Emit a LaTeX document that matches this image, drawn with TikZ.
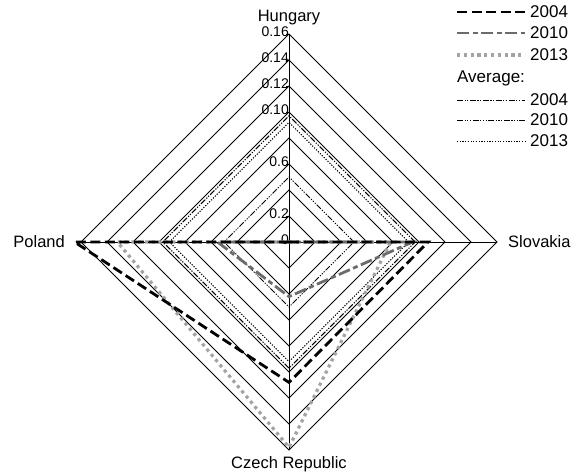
\documentclass[tikz,border=0pt]{standalone}
\usepackage{fontspec}
\setmainfont{Liberation Sans}
\usetikzlibrary{calc}

\newcommand{\vscale}{1300}
\definecolor{midgray}{gray}{0.42}
\definecolor{lightgray}{gray}{0.64}

\tikzset{
  ringline/.style={line width=0.8pt, black},
  ser2004/.style={line width=2.8pt, black, dash pattern=on 10pt off 4.5pt},
  ser2010/.style={line width=2.8pt, midgray, dash pattern=on 12pt off 3.5pt on 5pt off 3.5pt},
  ser2013/.style={line width=3.2pt, lightgray, dash pattern=on 3.2pt off 3.6pt},
  avg2004/.style={line width=1pt, black, dash pattern=on 6pt off 1.5pt on 1.2pt off 1.5pt on 1.2pt off 1.5pt},
  avg2010/.style={line width=1pt, black, dash pattern=on 6pt off 1.5pt on 1.2pt off 1.5pt on 1.2pt off 1.5pt on 1.2pt off 1.5pt},
  avg2013/.style={line width=1pt, black, dash pattern=on 1.2pt off 1.5pt},
  axislab/.style={font=\fontsize{16.5}{19}\selectfont, inner sep=0pt},
  ticklab/.style={font=\fontsize{14}{16}\selectfont, inner sep=0pt, anchor=east},
  leglab/.style={font=\fontsize{17}{19}\selectfont, inner sep=0pt, anchor=west}
}

\begin{document}
\begin{tikzpicture}[x=1pt,y=1pt]
    \useasboundingbox (-289,-233) rectangle (283,242);
    % rings and axes
    \foreach \i in {1,...,8}{
        \draw[ringline] (0:{\i*26}) -- (90:{\i*26}) -- (180:{\i*26}) -- (270:{\i*26}) -- cycle;
    }
    \coordinate (hu) at (90:208);
    \coordinate (sk) at (0:208);
    \coordinate (cz) at (270:208);
    \coordinate (pl) at (180:208);
    \draw[ringline] (hu) -- (cz);
    \draw[ringline] (pl) -- (sk);
    % scale
    \foreach \v/\t in {0/0, 1/0.2, 3/0.6, 5/0.10, 6/0.12, 7/0.14, 8/0.16}{
        \draw[ringline] (-3,{\v*26}) -- (0,{\v*26});
        \node[ticklab] (t\v) at (0,{\v*26+2}) {\t};
    }
    % countries
    \node[axislab, anchor=south] (hungary) at ($(hu)+(0,9)$) {Hungary};
    \node[axislab, anchor=west] (slovakia) at ($(sk)+(11,0)$) {Slovakia};
    \node[axislab, anchor=north] (czech) at ($(cz)+(0,-6)$) {Czech Republic};
    \node[axislab, anchor=east] (poland) at ($(pl)+(-16,0)$) {Poland};
    % averages
    \draw[avg2004] (0:{0.097*\vscale}) -- (90:{0.097*\vscale}) -- (180:{0.097*\vscale}) -- (270:{0.097*\vscale}) -- cycle;
    \draw[avg2010] (0:{0.050*\vscale}) -- (90:{0.050*\vscale}) -- (180:{0.050*\vscale}) -- (270:{0.050*\vscale}) -- cycle;
    \draw[avg2013] (0:{0.092*\vscale}) -- (90:{0.092*\vscale}) -- (180:{0.092*\vscale}) -- (270:{0.092*\vscale}) -- cycle;
    % years
    \draw[ser2013] (0,0) -- (0:{0.078*\vscale}) -- (270:{0.158*\vscale}) -- (180:{0.132*\vscale}) -- cycle;
    \draw[ser2010] (0,0) -- (0:{0.095*\vscale}) -- (270:{0.042*\vscale}) -- (180:{0.055*\vscale}) -- cycle;
    \draw[ser2004] (0,0) -- (0:{0.107*\vscale}) -- (270:{0.108*\vscale}) -- (180:{0.165*\vscale}) -- cycle;
    % legend
    \draw[ser2004] (168,230) -- (236,230);
    \node[leglab] (leg1) at (241,230) {2004};
    \draw[ser2010] (168,209) -- (236,209);
    \node[leglab] (leg2) at (241,209) {2010};
    \draw[ser2013] (168,187) -- (236,187);
    \node[leglab] (leg3) at (241,187) {2013};
    \node[leglab] (legavg) at (168,164) {Average:};
    \draw[avg2004] (168,142) -- (236,142);
    \node[leglab] (leg4) at (241,142) {2004};
    \draw[avg2010] (168,122) -- (236,122);
    \node[leglab] (leg5) at (241,122) {2010};
    \draw[avg2013] (168,101) -- (236,101);
    \node[leglab] (leg6) at (241,101) {2013};
\end{tikzpicture}
\end{document}
